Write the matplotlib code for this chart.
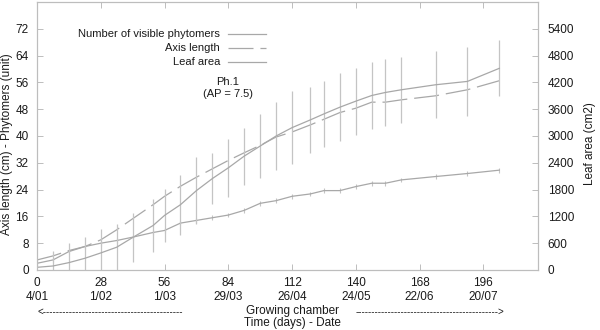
import matplotlib
matplotlib.use("Agg")
import matplotlib.pyplot as plt
from matplotlib.lines import Line2D

plt.rcParams['font.family'] = ['Liberation Sans', 'DejaVu Sans']
plt.rcParams['lines.scale_dashes'] = False

# ---- data ----
days = [0, 7, 14, 21, 28, 35, 42, 51, 56, 63, 70, 77, 84, 91, 98, 105, 112,
        120, 126, 133, 140, 147, 153, 160, 175, 189, 203]
phytomers = [2.0, 3.0, 5.5, 7.0, 8.0, 8.8, 9.8, 11.2, 11.8, 14.0, 14.8, 15.6, 16.4,
             17.8, 19.9, 20.7, 22.0, 22.7, 23.7, 23.7, 24.9, 25.9, 25.9, 26.9,
             27.9, 28.8, 29.8]
phytomers_err = [0.7] * len(days)
axis_length = [3.0, 4.2, 5.8, 7.0, 9.0, 12.0, 15.3, 19.5, 22.0, 25.0, 27.7, 30.2,
               32.7, 35.0, 37.2, 39.7, 41.2, 43.3, 45.0, 47.0, 48.3, 50.1, 50.1,
               50.8, 52.0, 53.8, 56.5]
leaf_area = [60, 90, 165, 262, 382, 510, 727, 997, 1222, 1462, 1777, 2047, 2287,
             2550, 2775, 3000, 3187, 3360, 3495, 3645, 3780, 3907, 3975, 4035,
             4147, 4222, 4515]
leaf_area_err = [0, 338, 442, 488, 540, 525, 555, 592, 592, 668, 742, 570, 645,
                 638, 720, 765, 818, 742, 742, 758, 750, 742, 742, 742, 750, 772, 630]

xticks = [0, 28, 56, 84, 112, 140, 168, 196]
xdates = ['4/01', '1/02', '1/03', '29/03', '26/04', '24/05', '22/06', '20/07']
yticks_left = [0, 8, 16, 24, 32, 40, 48, 56, 64, 72]
yticks_right = [0, 600, 1200, 1800, 2400, 3000, 3600, 4200, 4800, 5400]

line_col = '#a8a8a8'
err_col = '#c4c4c4'
frame_col = '#bdbdbd'
text_col = '#1a1a1a'

fig = plt.figure(figsize=(6, 3.3), dpi=100)
ax = fig.add_axes([37/600, 1-270/330, (538-37)/600, 268/330])
ax2 = ax.twinx()

# phytomers
ax.errorbar(days, phytomers, yerr=phytomers_err, color=line_col, lw=0.9,
            elinewidth=0.8, ecolor=err_col, capsize=0)
# axis length
ax.plot(days, axis_length, color=line_col, lw=0.9, dashes=(18, 5))
# leaf area
ax2.errorbar(days, leaf_area, yerr=leaf_area_err, color=line_col, lw=0.9,
             elinewidth=0.9, ecolor=err_col, capsize=0)

ax.set_xlim(0, 220)
ax.set_ylim(0, 80)
ax2.set_ylim(0, 6000)

ax.set_xticks(xticks)
ax.set_xticklabels([f"{d}\n{s}" for d, s in zip(xticks, xdates)], linespacing=1.25)
ax.set_yticks(yticks_left)
ax2.set_yticks(yticks_right)

for a in (ax, ax2):
    for sp in a.spines.values():
        sp.set_color(frame_col)
        sp.set_linewidth(0.8)
ax.tick_params(axis='x', direction='in', length=4, width=0.7, color=frame_col,
               labelsize=8.5, labelcolor=text_col, pad=5, top=True)
ax.tick_params(axis='y', direction='in', length=4, width=0.7, color=frame_col,
               labelsize=8.5, labelcolor=text_col, pad=6, right=False)
ax2.tick_params(axis='y', direction='in', length=4, width=0.7, color=frame_col,
                labelsize=8.5, labelcolor=text_col, pad=7)

ax.set_ylabel('Axis length (cm) - Phytomers (unit)', fontsize=8.5, color=text_col)
ax.yaxis.set_label_coords(-0.047, 0.47)
ax2.set_ylabel('Leaf area (cm2)', fontsize=8.5, color=text_col)
ax2.yaxis.set_label_coords(1.092, 0.47)

# manual legend (text right-aligned, sample to the right)
labels = ['Number of visible phytomers', 'Axis length', 'Leaf area']
styles = [dict(ls='-'), dict(dashes=(18, 5)), dict(ls='-')]
ys_px = [34, 48, 62]
for lab, st, ypx in zip(labels, styles, ys_px):
    yf = (270 - ypx) / 268
    ax.text((220-37)/501, yf, lab, transform=ax.transAxes, ha='right', va='center',
            fontsize=8, color=text_col)
    ax.add_line(Line2D([(228-37)/501, (266-37)/501], [yf, yf], transform=ax.transAxes,
                       color=line_col, lw=0.9, **st))

ax.text((228-37)/501, (270-88)/268, 'Ph.1\n(AP = 7.5)', transform=ax.transAxes,
        ha='center', va='center', fontsize=8, color=text_col, linespacing=1.15)

fig.text(292/600, 1-317/330, 'Growing chamber\nTime (days) - Date', ha='center',
         va='center', fontsize=8.5, color=text_col, linespacing=0.95)
fig.text(37/600, 1-312/330, '<' + '-' * 43, ha='left', va='center', fontsize=7,
         color=text_col)
fig.text(504/600, 1-312/330, '-' * 44 + '>', ha='right', va='center', fontsize=7,
         color=text_col)

fig.savefig('out.png', dpi=100)
